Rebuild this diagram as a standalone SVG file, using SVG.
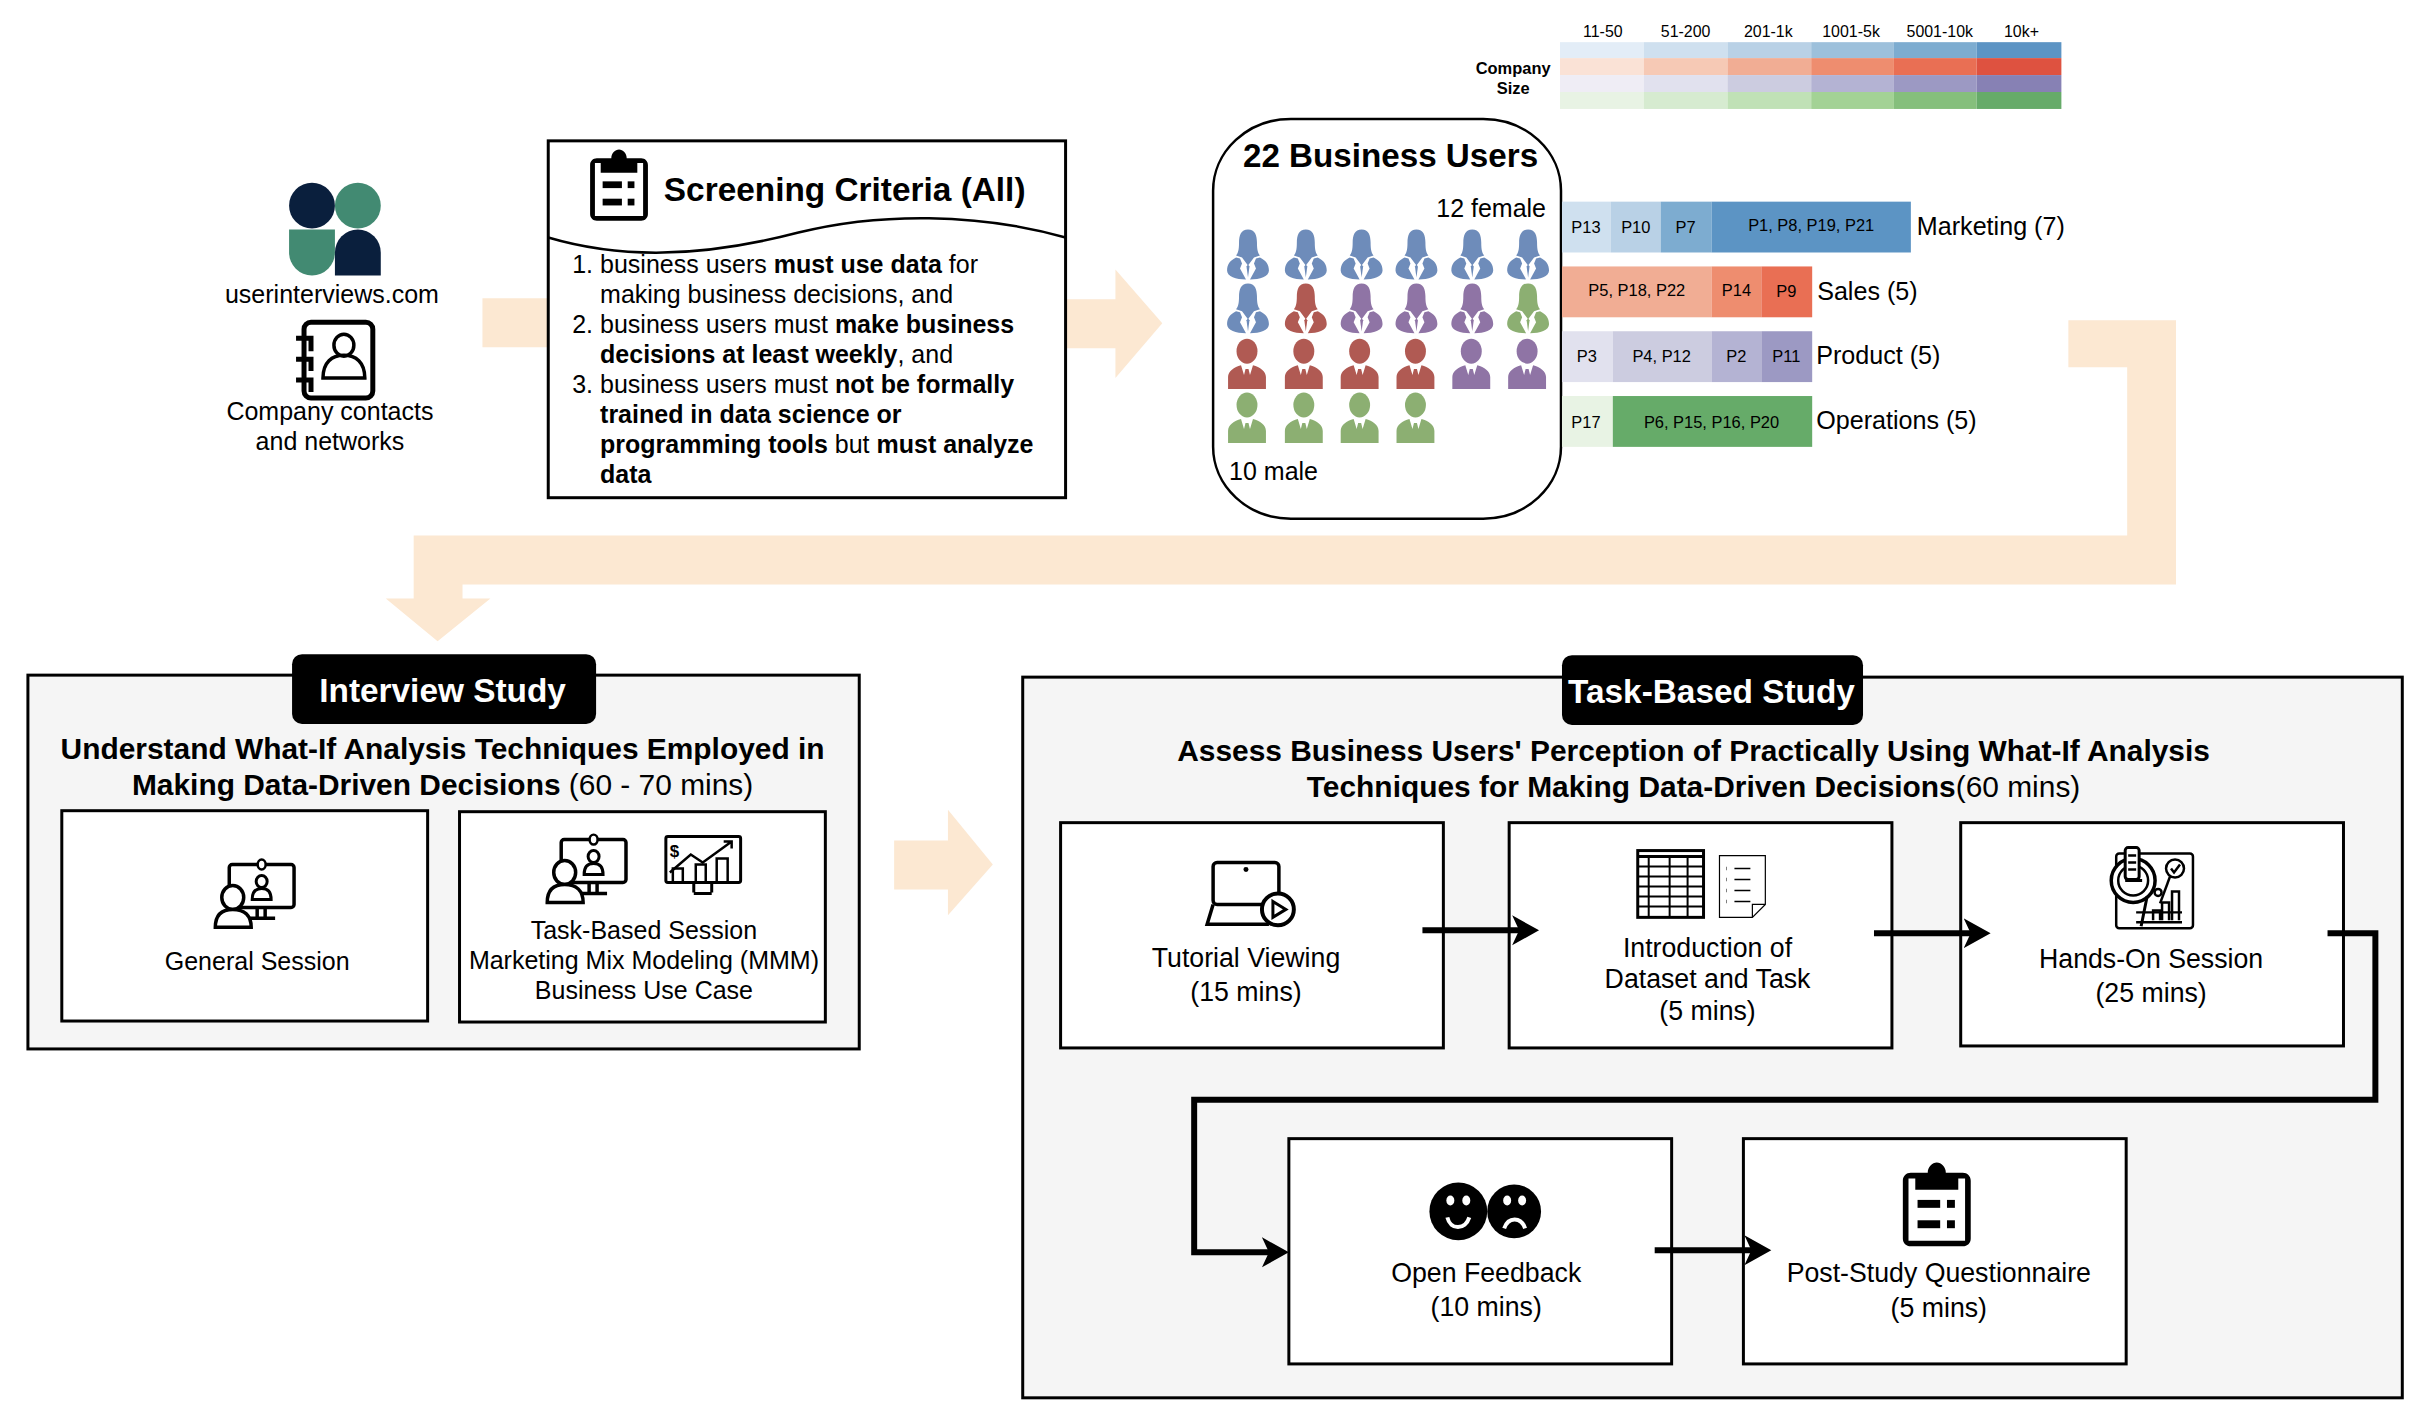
<svg xmlns="http://www.w3.org/2000/svg" width="2432" height="1426" viewBox="0 0 2432 1426">
<style>
text{font-family:"Liberation Sans",Arial,sans-serif;fill:#000}
.c{text-anchor:middle}
.b{font-weight:bold}
.t25{font-size:25.1px}
.t26{font-size:25.2px}
.t27{font-size:26.8px}
.t15{font-size:16px}
.t16{font-size:16.5px}
.box{fill:#fff;stroke:#000;stroke-width:3}
.panel{fill:#f5f5f5;stroke:#000;stroke-width:3}
.pill{fill:#000}
.w{fill:#fff;font-weight:bold;font-size:33.5px;text-anchor:middle}
.peach{fill:#fce8d2}
.conn{fill:none;stroke:#000;stroke-width:6}
.fb{fill:#6e8cba}.fr{fill:#b05a53}.fp{fill:#8f74a5}.fg{fill:#8caf72}
</style>
<defs>
<marker id="ah" markerUnits="userSpaceOnUse" markerWidth="32" markerHeight="34" refX="8" refY="15" orient="auto"><path d="M0,0 L27,15 L0,30 L7,15Z" fill="#000"/></marker>
<symbol id="fem" viewBox="0 0 42 50" width="42" height="50" overflow="visible">
<path d="M21,0C28,0 30,6 30,13C30,20 31,24 33,26L27,28L21,36L15,28L9,26C11,24 12,20 12,13C12,6 14,0 21,0Z"/>
<path d="M9,28C3,31 0,35 0,41C0,47 9,50 19,50L13,39L15,34L13,29Z"/>
<path d="M33,28C39,31 42,35 42,41C42,47 33,50 23,50L29,39L27,34L29,29Z"/>
<path d="M19.5,37L21,48L22.5,37L21,35Z"/>
</symbol>
<symbol id="mal" viewBox="0 0 38 50" width="38" height="50" overflow="visible">
<ellipse cx="19" cy="12" rx="10.5" ry="12.5"/>
<path d="M0,50V38C0,32 6,28 13,26L16,36L17.5,30H20.5L22,36L25,26C32,28 38,32 38,38V50Z"/>
</symbol>
<symbol id="clip" viewBox="0 0 60 74" overflow="visible">
<path d="M22,9C22,4 26,0 30,0C34,0 38,4 38,9H53C57,9 60,12 60,16V67C60,71 57,74 53,74H7C3,74 0,71 0,67V16C0,12 3,9 7,9Z"/>
<path d="M5,14H11V24H49V14H55V69H5Z" fill="#fff"/>
<rect x="13" y="33" width="20" height="7" fill="#000"/><rect x="39" y="33" width="7" height="7" fill="#000"/>
<rect x="13" y="51" width="20" height="7" fill="#000"/><rect x="39" y="51" width="7" height="7" fill="#000"/>
</symbol>
<symbol id="pres" viewBox="0 0 82 70" overflow="visible">
<rect x="16" y="6" width="65" height="43" rx="3" fill="none" stroke="#000" stroke-width="3.5"/>
<ellipse cx="48.5" cy="6" rx="4" ry="5" fill="#fff" stroke="#000" stroke-width="2.5"/>
<ellipse cx="48.5" cy="23" rx="5.5" ry="6" fill="none" stroke="#000" stroke-width="3"/>
<path d="M39,41C39,33 43,30 48.5,30C54,30 58,33 58,41Z" fill="none" stroke="#000" stroke-width="3"/>
<path d="M44,49V60M52,49V60M36,60H62" fill="none" stroke="#000" stroke-width="3.5"/>
<ellipse cx="19.5" cy="39" rx="11" ry="12" fill="#fff" stroke="#000" stroke-width="3.5"/>
<path d="M2,69C2,57 8,51 19.5,51C31,51 38,57 38,69Z" fill="#fff" stroke="#000" stroke-width="3.5"/>
</symbol>
</defs>
<g id="diagram" transform="translate(1,1.3) scale(0.9968)">
<g id="peach-arrows">
<polygon class="peach" points="483,298 600,298 600,347 483,347"/>
<polygon class="peach" points="1040,299 1118,299 1118,269 1165,323 1118,378 1118,348 1040,348"/>
<polygon class="peach" points="2074,320 2182,320 2182,585 463,585 463,599 491,599 438,642 386,599 414,599 414,536 2133,536 2133,367 2074,367"/>
<polygon class="peach" points="896,842 950,842 950,811 995,866 950,917 950,891 896,891"/>
</g>

<g id="logo">
<circle cx="312" cy="205" r="23" fill="#0a1f3d"/>
<circle cx="358" cy="205" r="23" fill="#428a72"/>
<path d="M289,229H335V252A23,23 0 0 1 289,252Z" fill="#428a72"/>
<path d="M335,275V252A23,23 0 0 1 381,252V275Z" fill="#0a1f3d"/>
<text class="c t25" x="332" y="303">userinterviews.com</text>
</g>

<g id="contacts">
<rect x="304" y="322" width="69" height="76" rx="7" fill="#fff" stroke="#000" stroke-width="5"/>
<path d="M296,338H311V351 M296,359H311V371 M296,380H311V392" fill="none" stroke="#000" stroke-width="5"/>
<ellipse cx="344" cy="345" rx="10" ry="11" fill="none" stroke="#000" stroke-width="3.5"/>
<path d="M323,378C323,362 332,355 344,355C356,355 365,362 365,378Z" fill="none" stroke="#000" stroke-width="3.5"/>
<text class="c t25" x="330" y="420">Company contacts</text>
<text class="c t25" x="330" y="450">and networks</text>
</g>

<g id="screening">
<rect class="box" x="549" y="140" width="519" height="358"/>
<use href="#clip" x="591" y="148" width="58" height="73"/>
<text class="b" font-size="33.5" x="665" y="200">Screening Criteria (All)</text>
<path d="M549,237C620,258 700,258 800,232C880,212 980,212 1068,237" fill="none" stroke="#000" stroke-width="2.5"/>
<g class="t25">
<text x="573" y="273">1.</text><text x="601" y="273">business users <tspan class="b">must use data</tspan> for</text>
<text x="601" y="303">making business decisions, and</text>
<text x="573" y="333">2.</text><text x="601" y="333">business users must <tspan class="b">make business</tspan></text>
<text x="601" y="363"><tspan class="b">decisions at least weekly</tspan>, and</text>
<text x="573" y="393">3.</text><text x="601" y="393">business users must <tspan class="b">not be formally</tspan></text>
<text class="b" x="601" y="423">trained in data science or</text>
<text x="601" y="453"><tspan class="b">programming tools</tspan> but <tspan class="b">must analyze</tspan></text>
<text class="b" x="601" y="483">data</text>
</g>
</g>

<g id="company-size">
<text class="c b" font-size="16.5" x="1517" y="73">Company</text><text class="c b" font-size="16.5" x="1517" y="93">Size</text>
<g class="c t15">
<text x="1607" y="36">11-50</text><text x="1690" y="36">51-200</text><text x="1773" y="36">201-1k</text><text x="1856" y="36">1001-5k</text><text x="1945" y="36">5001-10k</text><text x="2027" y="36">10k+</text>
</g>
<g>
<rect x="1564" y="41" width="84" height="16" fill="#e3edf7"/><rect x="1648" y="41" width="84" height="16" fill="#cfe0ef"/><rect x="1732" y="41" width="84" height="16" fill="#b9d1e6"/><rect x="1816" y="41" width="83" height="16" fill="#9dc0db"/><rect x="1899" y="41" width="83" height="16" fill="#7dacd0"/><rect x="1982" y="41" width="85" height="16" fill="#5c94c4"/>
<rect x="1564" y="57" width="84" height="17" fill="#fae2d6"/><rect x="1648" y="57" width="84" height="17" fill="#f6c9b5"/><rect x="1732" y="57" width="84" height="17" fill="#f1ad94"/><rect x="1816" y="57" width="83" height="17" fill="#ee8d6f"/><rect x="1899" y="57" width="83" height="17" fill="#e96f54"/><rect x="1982" y="57" width="85" height="17" fill="#de5240"/>
<rect x="1564" y="74" width="84" height="17" fill="#efedf5"/><rect x="1648" y="74" width="84" height="17" fill="#e1e1ee"/><rect x="1732" y="74" width="84" height="17" fill="#cccce0"/><rect x="1816" y="74" width="83" height="17" fill="#b4b3d3"/><rect x="1899" y="74" width="83" height="17" fill="#9c99c3"/><rect x="1982" y="74" width="85" height="17" fill="#8781b4"/>
<rect x="1564" y="91" width="84" height="17" fill="#e8f3e4"/><rect x="1648" y="91" width="84" height="17" fill="#d6ebd0"/><rect x="1732" y="91" width="84" height="17" fill="#c0e1b6"/><rect x="1816" y="91" width="83" height="17" fill="#a3d295"/><rect x="1899" y="91" width="83" height="17" fill="#85bf7c"/><rect x="1982" y="91" width="85" height="17" fill="#66ab69"/>
</g>
</g>

<g id="business-users">
<rect x="1216" y="118" width="349" height="401" rx="78" ry="72" fill="#fff" stroke="#000" stroke-width="2.5"/>
<text class="c b" font-size="33.3" x="1394" y="166">22 Business Users</text>
<text class="t25" text-anchor="end" x="1550" y="216">12 female</text>
<text class="t25" x="1232" y="480">10 male</text>
<g>
<use href="#fem" class="fb" x="1230" y="229"/><use href="#fem" class="fb" x="1288" y="229"/><use href="#fem" class="fb" x="1344" y="229"/><use href="#fem" class="fb" x="1399" y="229"/><use href="#fem" class="fb" x="1455" y="229"/><use href="#fem" class="fb" x="1511" y="229"/>
<use href="#fem" class="fb" x="1230" y="283"/><use href="#fem" class="fr" x="1288" y="283"/><use href="#fem" class="fp" x="1344" y="283"/><use href="#fem" class="fp" x="1399" y="283"/><use href="#fem" class="fp" x="1455" y="283"/><use href="#fem" class="fg" x="1511" y="283"/>
<use href="#mal" class="fr" x="1231" y="339"/><use href="#mal" class="fr" x="1288" y="339"/><use href="#mal" class="fr" x="1344" y="339"/><use href="#mal" class="fr" x="1400" y="339"/><use href="#mal" class="fp" x="1456" y="339"/><use href="#mal" class="fp" x="1512" y="339"/>
<use href="#mal" class="fg" x="1231" y="393"/><use href="#mal" class="fg" x="1288" y="393"/><use href="#mal" class="fg" x="1344" y="393"/><use href="#mal" class="fg" x="1400" y="393"/>
</g>
</g>

<g id="bars">
<rect x="1566" y="201" width="49" height="51" fill="#cfe0ef"/><rect x="1615" y="201" width="50" height="51" fill="#b9d1e6"/><rect x="1665" y="201" width="51" height="51" fill="#7dacd0"/><rect x="1716" y="201" width="200" height="51" fill="#5c94c4"/>
<g class="c t16"><text x="1590" y="232">P13</text><text x="1640" y="232">P10</text><text x="1690" y="232">P7</text><text x="1816" y="230">P1, P8, P19, P21</text></g>
<text class="t26" x="1922" y="234">Marketing (7)</text>
<rect x="1566" y="266" width="150" height="51" fill="#f1ad94"/><rect x="1716" y="266" width="50" height="51" fill="#ee8d6f"/><rect x="1766" y="266" width="51" height="51" fill="#e96f54"/>
<g class="c t16"><text x="1641" y="296">P5, P18, P22</text><text x="1741" y="296">P14</text><text x="1791" y="297">P9</text></g>
<text class="t26" x="1822" y="300">Sales (5)</text>
<rect x="1566" y="331" width="51" height="51" fill="#e1e1ee"/><rect x="1617" y="331" width="99" height="51" fill="#cccce0"/><rect x="1716" y="331" width="50" height="51" fill="#b4b3d3"/><rect x="1766" y="331" width="51" height="51" fill="#9c99c3"/>
<g class="c t16"><text x="1591" y="362">P3</text><text x="1666" y="362">P4, P12</text><text x="1741" y="362">P2</text><text x="1791" y="362">P11</text></g>
<text class="t26" x="1821" y="364">Product (5)</text>
<rect x="1566" y="396" width="51" height="51" fill="#e8f3e4"/><rect x="1617" y="396" width="200" height="51" fill="#66ab69"/>
<g class="c t16"><text x="1590" y="428">P17</text><text x="1716" y="428">P6, P15, P16, P20</text></g>
<text class="t26" x="1821" y="429">Operations (5)</text>
</g>

<g id="interview-study">
<rect class="panel" x="27" y="676" width="834" height="375"/>
<rect class="pill" x="292" y="655" width="305" height="70" rx="10"/>
<text class="w" x="443" y="703">Interview Study</text>
<text class="c b" font-size="30" x="443" y="760">Understand What-If Analysis Techniques Employed in</text>
<text class="c b" font-size="30" x="443" y="796">Making Data-Driven Decisions <tspan font-weight="normal">(60 - 70 mins)</tspan></text>
</g>
<g id="general-session">
<rect class="box" x="61" y="812" width="367" height="211"/>
<use href="#pres" x="213" y="860" width="82" height="70"/>
<text class="c t25" x="257" y="972">General Session</text>
</g>
<g id="task-session">
<rect class="box" x="460" y="813" width="367" height="211"/>
<use href="#pres" x="546" y="835" width="82" height="70"/>
<g id="chart-icon">
<rect x="667" y="838" width="75" height="46" rx="2" fill="none" stroke="#000" stroke-width="3"/>
<path d="M695,884V894M713,884V894M695,895H713" fill="none" stroke="#000" stroke-width="3"/>
<path d="M671,874L692,856L704,864L733,843M725,843H733V850" fill="none" stroke="#000" stroke-width="2.5"/>
<path d="M674,884V870H684V884M697,884V866H707V884M718,884V860H729V884" fill="none" stroke="#000" stroke-width="2.5"/>
<text font-size="17" font-weight="bold" x="671" y="858">$</text>
</g>
<text class="c t25" x="645" y="941">Task-Based Session</text>
<text class="c t25" x="645" y="971">Marketing Mix Modeling (MMM)</text>
<text class="c t25" x="645" y="1001">Business Use Case</text>
</g>

<g id="task-study">
<rect class="panel" x="1025" y="678" width="1384" height="723"/>
<rect class="pill" x="1566" y="656" width="302" height="70" rx="10"/>
<text class="w" x="1716" y="704">Task-Based Study</text>
<text class="c b" font-size="30" x="1698" y="762">Assess Business Users' Perception of Practically Using What-If Analysis</text>
<text class="c b" font-size="30" x="1698" y="798">Techniques for Making Data-Driven Decisions<tspan font-weight="normal">(60 mins)</tspan></text>
</g>
<g id="tutorial">
<rect class="box" x="1063" y="824" width="384" height="226"/>
<rect x="1216" y="864" width="66" height="42" rx="4" fill="none" stroke="#000" stroke-width="3.5"/>
<circle cx="1249" cy="871" r="2.5" fill="#000"/>
<path d="M1216,906L1210,926H1272" fill="none" stroke="#000" stroke-width="3.5"/>
<circle cx="1281" cy="911" r="16" fill="#fff" stroke="#000" stroke-width="4"/>
<path d="M1276,903L1289,911L1276,919Z" fill="none" stroke="#000" stroke-width="3"/>
<text class="c t27" x="1249" y="969">Tutorial Viewing</text>
<text class="c t27" x="1249" y="1003">(15 mins)</text>
</g>
<g id="intro">
<rect class="box" x="1513" y="824" width="384" height="226"/>
<g fill="none" stroke="#000">
<rect x="1642" y="852" width="66" height="67" stroke-width="3"/>
<path d="M1642,858H1708" stroke-width="3"/>
<path d="M1642,868H1708M1642,878H1708M1642,888H1708M1642,898H1708M1642,908H1708M1653,858V919M1674,858V919M1692,858V919" stroke-width="2"/>
<path d="M1724,857H1770V906L1757,919H1724ZM1770,906H1757V919" fill="#fff" stroke-width="1.2"/>
<path d="M1739,870H1755M1739,881H1755M1739,892H1755M1739,903H1755" stroke-width="1.5"/>
<path d="M1731,870h.5M1731,881h.5M1731,892h.5M1731,903h.5" stroke-width="3.5"/>
</g>
<text class="c t27" x="1712" y="959">Introduction of</text>
<text class="c t27" x="1712" y="990">Dataset and Task</text>
<text class="c t27" x="1712" y="1022">(5 mins)</text>
</g>
<g id="hands-on">
<rect class="box" x="1966" y="824" width="384" height="224"/>
<g fill="none" stroke="#000" stroke-width="2.5">
<rect x="2122" y="855" width="77" height="75" rx="3"/>
<circle cx="2139" cy="882" r="22" fill="#fff" stroke-width="3.5"/>
<circle cx="2139" cy="882" r="15"/>
<path d="M2153,898L2147,928M2131,882H2148" stroke-width="3"/>
<rect x="2131" y="849" width="14" height="32" rx="3" fill="#fff" stroke-width="3"/>
<path d="M2134,857H2142M2134,864H2142M2134,871H2142"/>
<circle cx="2181" cy="870" r="9"/>
<path d="M2177,870L2180,874L2186,866"/>
<path d="M2166,905L2176,878"/>
<circle cx="2164" cy="894" r="3.5"/>
<path d="M2168,922V904H2175V922M2178,922V893H2185V922M2159,922V912H2166V922"/>
<path d="M2142,914H2188M2142,924H2188"/>
</g>
<text class="c t27" x="2157" y="970">Hands-On Session</text>
<text class="c t27" x="2157" y="1004">(25 mins)</text>
</g>
<g id="open-feedback">
<rect class="box" x="1292" y="1141" width="384" height="226"/>
<circle cx="1462" cy="1214" r="29"/><circle cx="1518" cy="1214" r="27"/>
<g fill="#fff"><ellipse cx="1454" cy="1203" rx="4" ry="5"/><ellipse cx="1470" cy="1203" rx="4" ry="5"/><ellipse cx="1511" cy="1203" rx="4" ry="5"/><ellipse cx="1526" cy="1203" rx="4" ry="5"/></g>
<path d="M1451,1220C1454,1233 1469,1233 1473,1220" fill="none" stroke="#fff" stroke-width="4"/>
<path d="M1508,1231C1512,1219 1525,1219 1529,1231" fill="none" stroke="#fff" stroke-width="4"/>
<text class="c t27" x="1490" y="1285">Open Feedback</text>
<text class="c t27" x="1490" y="1319">(10 mins)</text>
</g>
<g id="post-study">
<rect class="box" x="1748" y="1141" width="384" height="226"/>
<use href="#clip" x="1906" y="1165" width="72" height="84"/>
<text class="c t27" x="1944" y="1285">Post-Study Questionnaire</text>
<text class="c t27" x="1944" y="1320">(5 mins)</text>
</g>

<g id="connectors">
<path class="conn" d="M1426,932H1524" marker-end="url(#ah)"/>
<path class="conn" d="M1879,935H1977" marker-end="url(#ah)"/>
<path class="conn" d="M2334,935H2382V1102H1197V1255H1273" marker-end="url(#ah)"/>
<path class="conn" d="M1659,1253H1757" marker-end="url(#ah)"/>
</g>
</g>
</svg>
